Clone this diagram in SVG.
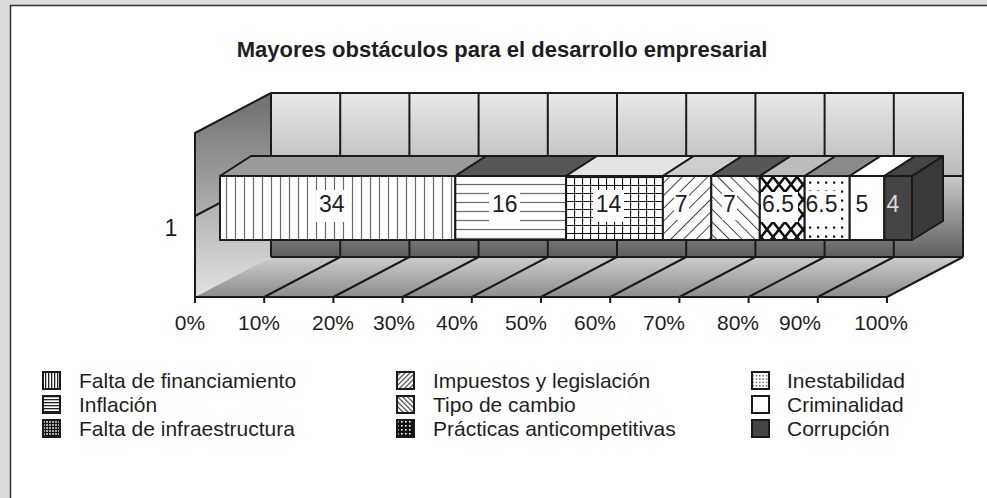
<svg xmlns="http://www.w3.org/2000/svg" width="987" height="498" viewBox="0 0 987 498">
<defs>
<style>
text{font-family:"Liberation Sans",Arial,sans-serif;fill:#1e1e1e}
.ax{font-size:21px;text-anchor:middle}
.lbl{font-size:23px;text-anchor:middle}
.leg{font-size:21px}
.edge{fill:none;stroke:#1a1a1a;stroke-width:2;stroke-linejoin:round}
.grid{stroke:#1a1a1a;stroke-width:2;fill:none}
.seg{stroke:#1a1a1a;stroke-width:2;stroke-linejoin:round}
.box{fill:#fff}
.icon{stroke:#1a1a1a;stroke-width:2}
</style>
<linearGradient id="gWallTop" x1="0" y1="0" x2="0" y2="1"><stop offset="0" stop-color="#e8e8e8"/><stop offset="1" stop-color="#bababa"/></linearGradient>
<linearGradient id="gWallBot" x1="0" y1="0" x2="0" y2="1"><stop offset="0" stop-color="#cacaca"/><stop offset="0.55" stop-color="#8e8e8e"/><stop offset="1" stop-color="#5e5e5e"/></linearGradient>
<linearGradient id="gLeftTop" x1="0" y1="0" x2="0" y2="1"><stop offset="0" stop-color="#6e6e6e"/><stop offset="1" stop-color="#b0b0b0"/></linearGradient>
<linearGradient id="gLeftBot" x1="0" y1="0" x2="0" y2="1"><stop offset="0" stop-color="#a2a2a2"/><stop offset="1" stop-color="#e2e2e2"/></linearGradient>
<linearGradient id="gFloor" x1="0" y1="0" x2="0" y2="1"><stop offset="0" stop-color="#cdcdcd"/><stop offset="1" stop-color="#8c8c8c"/></linearGradient>
<pattern id="pV" width="9" height="10" patternUnits="userSpaceOnUse" x="222"><rect width="9" height="10" fill="#fff"/><line x1="4.5" y1="0" x2="4.5" y2="10" stroke="#6a6a6a" stroke-width="1.2"/></pattern>
<pattern id="pH" width="10" height="9" patternUnits="userSpaceOnUse" y="180"><rect width="10" height="9" fill="#fff"/><line x1="0" y1="4.5" x2="10" y2="4.5" stroke="#6a6a6a" stroke-width="1.2"/></pattern>
<pattern id="pG" width="8" height="8" patternUnits="userSpaceOnUse" x="566" y="177"><rect width="8" height="8" fill="#fff"/><path d="M0 0H8M0 0V8" stroke="#111" stroke-width="2.2"/></pattern>
<pattern id="pD1" width="9" height="9" patternUnits="userSpaceOnUse" patternTransform="rotate(45)"><rect width="9" height="9" fill="#fff"/><line x1="4.5" y1="0" x2="4.5" y2="9" stroke="#444" stroke-width="1"/></pattern>
<pattern id="pD2" width="9" height="9" patternUnits="userSpaceOnUse" patternTransform="rotate(-45)"><rect width="9" height="9" fill="#fff"/><line x1="4.5" y1="0" x2="4.5" y2="9" stroke="#444" stroke-width="1"/></pattern>
<pattern id="pX" width="12" height="15" patternUnits="userSpaceOnUse" x="761" y="177"><rect width="12" height="15" fill="#fff"/><path d="M0 0L12 15M12 0L0 15" stroke="#111" stroke-width="2.6"/></pattern>
<pattern id="pDot" width="8" height="9" patternUnits="userSpaceOnUse" x="806" y="178"><rect width="8" height="9" fill="#fff"/><rect x="3" y="3.5" width="2.2" height="2.2" fill="#111"/></pattern>
<pattern id="lV" width="3" height="3" patternUnits="userSpaceOnUse"><rect width="3" height="3" fill="#fff"/><rect x="0" y="0" width="1.3" height="3" fill="#222"/></pattern>
<pattern id="lH" width="3" height="3" patternUnits="userSpaceOnUse"><rect width="3" height="3" fill="#fff"/><rect x="0" y="0" width="3" height="1.3" fill="#222"/></pattern>
<pattern id="lG" width="3" height="3" patternUnits="userSpaceOnUse"><rect width="3" height="3" fill="#111"/><rect x="1.2" y="1.2" width="1.6" height="1.6" fill="#fff"/></pattern>
<pattern id="lD1" width="3.5" height="3.5" patternUnits="userSpaceOnUse" patternTransform="rotate(45)"><rect width="3.5" height="3.5" fill="#fff"/><rect x="0" y="0" width="1.1" height="3.5" fill="#333"/></pattern>
<pattern id="lD2" width="3.5" height="3.5" patternUnits="userSpaceOnUse" patternTransform="rotate(-45)"><rect width="3.5" height="3.5" fill="#fff"/><rect x="0" y="0" width="1.1" height="3.5" fill="#333"/></pattern>
<pattern id="lX" width="4" height="4" patternUnits="userSpaceOnUse"><rect width="4" height="4" fill="#111"/><rect x="1" y="1" width="1.6" height="1.6" fill="#fff"/></pattern>
<pattern id="lDot" width="3.4" height="3.4" patternUnits="userSpaceOnUse"><rect width="3.4" height="3.4" fill="#fff"/><rect x="1" y="1" width="1.2" height="1.2" fill="#111"/></pattern>
</defs>

<rect x="0" y="0" width="987" height="498" fill="#dcdcdc"/>
<rect x="10.5" y="5.5" width="990" height="500" fill="#fff" stroke="#333" stroke-width="1.5"/>

<text x="502" y="57" font-size="22" font-weight="bold" text-anchor="middle">Mayores obstáculos para el desarrollo empresarial</text>

<g id="walls">
<rect x="271" y="93" width="692" height="83" fill="url(#gWallTop)"/>
<rect x="271" y="176" width="692" height="81" fill="url(#gWallBot)"/>
<polygon points="271,93 195,133 195,216 271,176" fill="url(#gLeftTop)"/>
<polygon points="271,176 195,216 195,297 271,257" fill="url(#gLeftBot)"/>
<polygon points="271,257 963,257 887,297 195,297" fill="url(#gFloor)"/>
</g>

<g id="gridlines">
<path class="grid" d="M340.2 93V257M409.4 93V257M478.6 93V257M547.8 93V257M617 93V257M686.2 93V257M755.4 93V257M824.6 93V257M893.8 93V257"/>
<path class="grid" d="M271 176H963M271 176L195 216"/>
<path class="grid" d="M340.2 257L264.2 297M409.4 257L333.4 297M478.6 257L402.6 297M547.8 257L471.8 297M617 257L541 297M686.2 257L610.2 297M755.4 257L679.4 297M824.6 257L748.6 297M893.8 257L817.8 297"/>
<path class="edge" d="M271 93H963V257M271 93V257M271 93L195 133V297M195 297H887L963 257M271 257H963"/>
<path class="grid" d="M195 297V303M264.2 297V303M333.4 297V303M402.6 297V303M471.8 297V303M541 297V303M610.2 297V303M679.4 297V303M748.6 297V303M817.8 297V303M887 297V303"/>
</g>

<g id="axis-labels">
<text class="ax" x="190" y="330">0%</text>
<text class="ax" x="259" y="330">10%</text>
<text class="ax" x="333" y="330">20%</text>
<text class="ax" x="394" y="330">30%</text>
<text class="ax" x="457" y="330">40%</text>
<text class="ax" x="526" y="330">50%</text>
<text class="ax" x="595" y="330">60%</text>
<text class="ax" x="664" y="330">70%</text>
<text class="ax" x="738" y="330">80%</text>
<text class="ax" x="800" y="330">90%</text>
<text class="ax" x="881" y="330">100%</text>
<text x="171" y="236" font-size="23" text-anchor="middle">1</text>
</g>

<g id="bar-side">
<polygon class="seg" points="912,176 943,156 943,221 912,240" fill="#3a3a3a"/>
</g>

<g id="seg-financiamiento">
<polygon class="seg" points="220,176 251,156 486.3,156 455.3,176" fill="#9a9a9a"/>
<rect class="seg" x="220" y="176" width="235.3" height="64" fill="url(#pV)"/>
<rect class="box" x="316" y="190" width="31" height="32"/>
<text class="lbl" x="331.7" y="212">34</text>
</g>
<g id="seg-inflacion">
<polygon class="seg" points="455.3,176 486.3,156 597,156 566,176" fill="#575757"/>
<rect class="seg" x="455.3" y="176" width="110.7" height="64" fill="url(#pH)"/>
<rect class="box" x="489" y="190" width="31" height="32"/>
<text class="lbl" x="504.7" y="212">16</text>
</g>
<g id="seg-infraestructura">
<polygon class="seg" points="566,176 597,156 693.9,156 662.9,176" fill="#e4e4e4"/>
<rect class="seg" x="566" y="176" width="96.9" height="64" fill="url(#pG)"/>
<rect class="box" x="593" y="190" width="31" height="32"/>
<text class="lbl" x="608.5" y="212">14</text>
</g>
<g id="seg-impuestos">
<polygon class="seg" points="662.9,176 693.9,156 742.3,156 711.3,176" fill="#cdcdcd"/>
<rect class="seg" x="662.9" y="176" width="48.4" height="64" fill="url(#pD1)"/>
<rect class="box" x="674" y="192" width="15" height="28"/>
<text class="lbl" x="681.1" y="212">7</text>
</g>
<g id="seg-tipo-cambio">
<polygon class="seg" points="711.3,176 742.3,156 790.8,156 759.8,176" fill="#575757"/>
<rect class="seg" x="711.3" y="176" width="48.5" height="64" fill="url(#pD2)"/>
<rect class="box" x="722" y="192" width="15" height="28"/>
<text class="lbl" x="729.5" y="212">7</text>
</g>
<g id="seg-practicas">
<polygon class="seg" points="759.8,176 790.8,156 835.7,156 804.7,176" fill="#bcbcbc"/>
<rect class="seg" x="759.8" y="176" width="44.9" height="64" fill="url(#pX)"/>
<rect class="box" x="761" y="192" width="37" height="30"/>
<text class="lbl" x="778" y="212">6.5</text>
</g>
<g id="seg-inestabilidad">
<polygon class="seg" points="804.7,176 835.7,156 880.7,156 849.7,176" fill="#8a8a8a"/>
<rect class="seg" x="804.7" y="176" width="45" height="64" fill="url(#pDot)"/>
<rect class="box" x="806" y="191" width="33" height="30"/>
<text class="lbl" x="821.5" y="212">6.5</text>
</g>
<g id="seg-criminalidad">
<polygon class="seg" points="849.7,176 880.7,156 915.3,156 884.3,176" fill="#ffffff"/>
<rect class="seg" x="849.7" y="176" width="34.6" height="64" fill="#fff"/>
<text class="lbl" x="862" y="212">5</text>
</g>
<g id="seg-corrupcion">
<polygon class="seg" points="884.3,176 915.3,156 943,156 912,176" fill="#454545"/>
<rect class="seg" x="884.3" y="176" width="27.7" height="64" fill="#444"/>
<text class="lbl" x="893" y="212" style="fill:#d8d8d8">4</text>
</g>

<g id="legend-financiamiento"><rect class="icon" x="43" y="372" width="17" height="17" fill="url(#lV)"/><text class="leg" x="79" y="388">Falta de financiamiento</text></g>
<g id="legend-inflacion"><rect class="icon" x="43" y="396" width="17" height="17" fill="url(#lH)"/><text class="leg" x="79" y="412">Inflación</text></g>
<g id="legend-infraestructura"><rect class="icon" x="43" y="420" width="17" height="17" fill="url(#lG)"/><text class="leg" x="79" y="436">Falta de infraestructura</text></g>
<g id="legend-impuestos"><rect class="icon" x="397" y="372" width="17" height="17" fill="url(#lD1)"/><text class="leg" x="433" y="388">Impuestos y legislación</text></g>
<g id="legend-tipo-cambio"><rect class="icon" x="397" y="396" width="17" height="17" fill="url(#lD2)"/><text class="leg" x="433" y="412">Tipo de cambio</text></g>
<g id="legend-practicas"><rect class="icon" x="397" y="420" width="17" height="17" fill="url(#lX)"/><text class="leg" x="433" y="436">Prácticas anticompetitivas</text></g>
<g id="legend-inestabilidad"><rect class="icon" x="752" y="372" width="17" height="17" fill="url(#lDot)"/><text class="leg" x="787" y="388">Inestabilidad</text></g>
<g id="legend-criminalidad"><rect class="icon" x="752" y="396" width="17" height="17" fill="#fff"/><text class="leg" x="787" y="412">Criminalidad</text></g>
<g id="legend-corrupcion"><rect class="icon" x="752" y="420" width="17" height="17" fill="#444"/><text class="leg" x="787" y="436">Corrupción</text></g>
</svg>
